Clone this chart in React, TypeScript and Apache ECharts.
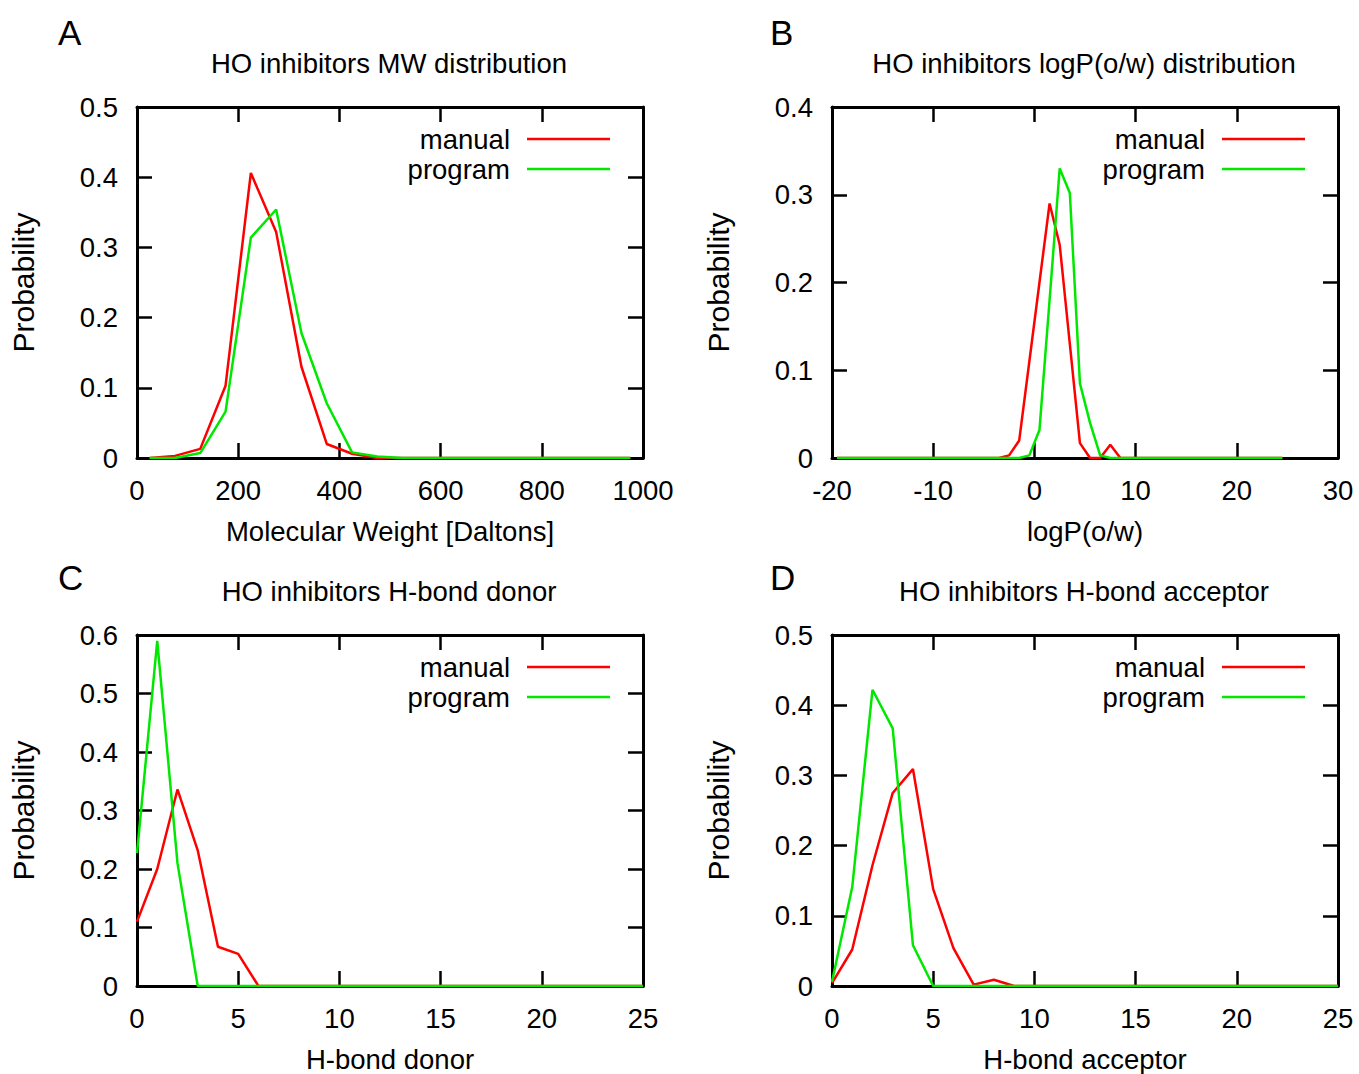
import React, { useEffect, useRef } from "react";
import * as echarts from "echarts";

// ---------- data ----------
const mwX = [25, 75, 125, 175, 225, 275, 325, 375, 425, 475, 525, 575, 625, 675, 725, 775, 825, 875, 925, 975];
const mwManual = [0, 0.003, 0.013, 0.103, 0.406, 0.322, 0.13, 0.02, 0.006, 0, 0, 0, 0, 0, 0, 0, 0, 0, 0, 0];
const mwProgram = [0, 0, 0.007, 0.066, 0.314, 0.354, 0.178, 0.078, 0.008, 0.002, 0, 0, 0, 0, 0, 0, 0, 0, 0, 0];

const logpX = [-19.5, -4.5, -3.5, -2.5, -1.5, -0.5, 0.5, 1.5, 2.5, 3.5, 4.5, 5.5, 6.5, 7.5, 8.5, 9.5, 24.5];
const logpManual = [0, 0, 0, 0.003, 0.02, 0.11, 0.2, 0.29, 0.243, 0.13, 0.017, 0, 0, 0.015, 0, 0, 0];
const logpProgram = [0, 0, 0, 0, 0, 0.003, 0.032, 0.18, 0.33, 0.302, 0.085, 0.04, 0.003, 0, 0, 0, 0];

const hbX = [0, 1, 2, 3, 4, 5, 6, 7, 8, 9, 10, 11, 12, 13, 14, 15, 16, 17, 18, 19, 20, 21, 22, 23, 24, 25];
const donorManual = [0.11, 0.2, 0.336, 0.232, 0.067, 0.055, 0, 0, 0, 0, 0, 0, 0, 0, 0, 0, 0, 0, 0, 0, 0, 0, 0, 0, 0, 0];
const donorProgram = [0.227, 0.59, 0.21, 0, 0, 0, 0, 0, 0, 0, 0, 0, 0, 0, 0, 0, 0, 0, 0, 0, 0, 0, 0, 0, 0, 0];
const accManual = [0.004, 0.052, 0.172, 0.275, 0.309, 0.138, 0.054, 0.002, 0.009, 0, 0, 0, 0, 0, 0, 0, 0, 0, 0, 0, 0, 0, 0, 0, 0, 0];
const accProgram = [0.006, 0.141, 0.422, 0.367, 0.058, 0, 0, 0, 0, 0, 0, 0, 0, 0, 0, 0, 0, 0, 0, 0, 0, 0, 0, 0, 0, 0];

const panelLetters = ["A", "B", "C", "D"];
const panelTitles = [
  "HO inhibitors MW distribution",
  "HO inhibitors logP(o/w) distribution",
  "HO inhibitors H-bond donor",
  "HO inhibitors H-bond acceptor",
];
const xNames = ["Molecular Weight [Daltons]", "logP(o/w)", "H-bond donor", "H-bond acceptor"];
const seriesNames = ["manual", "program"];
const seriesColors = ["#ff0000", "#00e800"];

const FONT = "'Liberation Sans', Arial, Helvetica, sans-serif";
const FS = 27.5;

const pair = (xs: number[], ys: number[]) => xs.map((x, i) => [x, ys[i]]);

export default function App() {
  const ref = useRef<HTMLDivElement>(null);

  useEffect(() => {
    if (!ref.current) return;
    const chart = echarts.init(ref.current, null, { renderer: "svg" });

    const panels = [
      { left: 137, top: 107, letterX: 58, letterTop: 15, xmin: 0, xmax: 1000, xint: 200, ymax: 0.5, data: [pair(mwX, mwManual), pair(mwX, mwProgram)] },
      { left: 832, top: 107, letterX: 770, letterTop: 15, xmin: -20, xmax: 30, xint: 10, ymax: 0.4, data: [pair(logpX, logpManual), pair(logpX, logpProgram)] },
      { left: 137, top: 635, letterX: 58, letterTop: 560, xmin: 0, xmax: 25, xint: 5, ymax: 0.6, data: [pair(hbX, donorManual), pair(hbX, donorProgram)] },
      { left: 832, top: 635, letterX: 770, letterTop: 560, xmin: 0, xmax: 25, xint: 5, ymax: 0.5, data: [pair(hbX, accManual), pair(hbX, accProgram)] },
    ];
    const W = 506;
    const H = 351;

    const axisLine = { show: true, onZero: false, lineStyle: { color: "#000", width: 3 } };
    const tick = { show: true, inside: true, length: 15, lineStyle: { color: "#000", width: 2.5 } };

    const grid: any[] = [];
    const xAxis: any[] = [];
    const yAxis: any[] = [];
    const series: any[] = [];
    const title: any[] = [];
    const graphic: any[] = [];

    panels.forEach((p, i) => {
      grid.push({ left: p.left, top: p.top, width: W, height: H, containLabel: false });
      const xBase = {
        type: "value", gridIndex: i, min: p.xmin, max: p.xmax, interval: p.xint,
        axisLine, axisTick: tick, splitLine: { show: false },
      };
      const yBase = {
        type: "value", gridIndex: i, min: 0, max: p.ymax, interval: 0.1,
        axisLine, axisTick: tick, splitLine: { show: false },
      };
      xAxis.push({
        ...xBase, position: "bottom",
        axisLabel: {
          show: true, margin: 18, color: "#000", fontSize: FS, fontFamily: FONT,
          formatter: (v: number) => String(v),
        },
        name: xNames[i], nameLocation: "middle", nameGap: 59,
        nameTextStyle: { color: "#000", fontSize: FS, fontFamily: FONT },
      });
      xAxis.push({ ...xBase, position: "top", axisLabel: { show: false } });
      yAxis.push({
        ...yBase, position: "left",
        axisLabel: { show: true, margin: 19, color: "#000", fontSize: FS, fontFamily: FONT },
        name: "Probability", nameLocation: "middle", nameGap: 99,
        nameTextStyle: { color: "#000", fontSize: 30, fontFamily: FONT },
      });
      yAxis.push({ ...yBase, position: "right", axisLabel: { show: false } });

      p.data.forEach((d, k) => {
        series.push({
          type: "line", name: seriesNames[k], xAxisIndex: 2 * i, yAxisIndex: 2 * i,
          data: d, showSymbol: false, symbol: "none",
          lineStyle: { color: seriesColors[k], width: 2.5 },
          itemStyle: { color: seriesColors[k] }, z: 2 + k,
        });
      });

      title.push({
        text: panelTitles[i], left: p.left + W / 2 - 6, top: p.top - 63, textAlign: "center",
        textStyle: { color: "#000", fontSize: FS, fontWeight: "normal", fontFamily: FONT },
      });

      graphic.push({
        type: "text", left: p.letterX, top: p.letterTop,
        style: { text: panelLetters[i], fill: "#000", fontSize: 35, fontFamily: FONT },
      });

      seriesNames.forEach((nm, k) => {
        const cy = p.top + 32 + k * 30;
        const lx = p.left + 390;
        graphic.push({
          type: "text", x: lx - 17, y: cy,
          style: { text: nm, fill: "#000", fontSize: FS, fontFamily: FONT, align: "right", verticalAlign: "middle" },
        });
        graphic.push({
          type: "line", shape: { x1: lx, y1: cy, x2: lx + 83, y2: cy },
          style: { stroke: seriesColors[k], lineWidth: 2.5 },
        });
      });
    });

    chart.setOption({
      animation: false,
      backgroundColor: "#fff",
      textStyle: { fontFamily: FONT },
      grid, xAxis, yAxis, series, title, graphic,
    });

    return () => chart.dispose();
  }, []);

  return (
    <div
      ref={ref}
      style={{ position: "fixed", left: 0, top: 0, width: 1359, height: 1074, background: "#fff" }}
    />
  );
}
